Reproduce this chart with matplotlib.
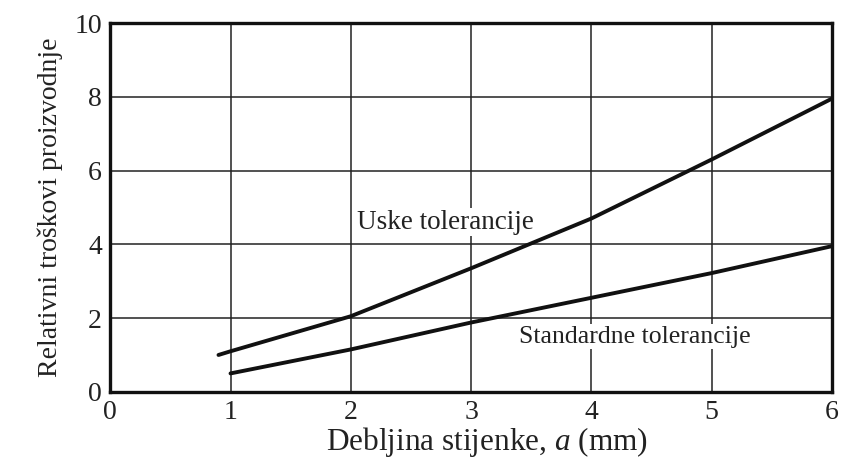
import matplotlib
matplotlib.use("Agg")
import matplotlib.pyplot as plt

# Data
uske_x = [0.9, 1, 2, 3, 4, 5, 6]
uske_y = [1.0, 1.1, 2.05, 3.35, 4.7, 6.3, 7.95]
std_x = [1, 2, 3, 4, 5, 6]
std_y = [0.5, 1.15, 1.88, 2.55, 3.22, 3.95]
x_ticks = [0, 1, 2, 3, 4, 5, 6]
y_ticks = [0, 2, 4, 6, 8, 10]

plt.rcParams['font.family'] = ['Liberation Serif', 'DejaVu Serif']
plt.rcParams['mathtext.fontset'] = 'custom'
plt.rcParams['mathtext.it'] = 'Liberation Serif:italic'
plt.rcParams['mathtext.rm'] = 'Liberation Serif'

fig = plt.figure(figsize=(8.48, 4.61), dpi=100)
ax = fig.add_axes([0.130, 0.150, 0.851, 0.800])
ax.set_xlim(0, 6)
ax.set_ylim(0, 10)
ax.set_xticks(x_ticks)
ax.set_yticks(y_ticks)
ax.tick_params(length=0, labelsize=20, pad=6, colors='#222222')
ax.grid(True, color='#222222', linewidth=1.1)
ax.set_axisbelow(True)
for s in ax.spines.values():
    s.set_linewidth(2.4)
    s.set_color('#111111')

ax.plot(uske_x, uske_y, color='#111111', linewidth=2.8, solid_capstyle='round')
ax.plot(std_x, std_y, color='#111111', linewidth=2.8, solid_capstyle='round')

ax.text(2.05, 4.6, 'Uske tolerancije', fontsize=19.5, va='center', ha='left', color='#222222',
        bbox=dict(facecolor='white', edgecolor='none', pad=1))
ax.text(3.4, 1.5, 'Standardne tolerancije', fontsize=18.5, va='center', ha='left', color='#222222',
        bbox=dict(facecolor='white', edgecolor='none', pad=1))

ax.set_xlabel('Debljina stijenke, $a$ (mm)', fontsize=22.5, color='#222222', labelpad=2)
ax.xaxis.set_label_coords(0.522, -0.09, transform=ax.transAxes)
ax.xaxis.label.set_va('top')
ax.set_ylabel('Relativni troškovi proizvodnje', fontsize=20, color='#222222', labelpad=8)

fig.savefig('out.png', dpi=100, facecolor='white')
